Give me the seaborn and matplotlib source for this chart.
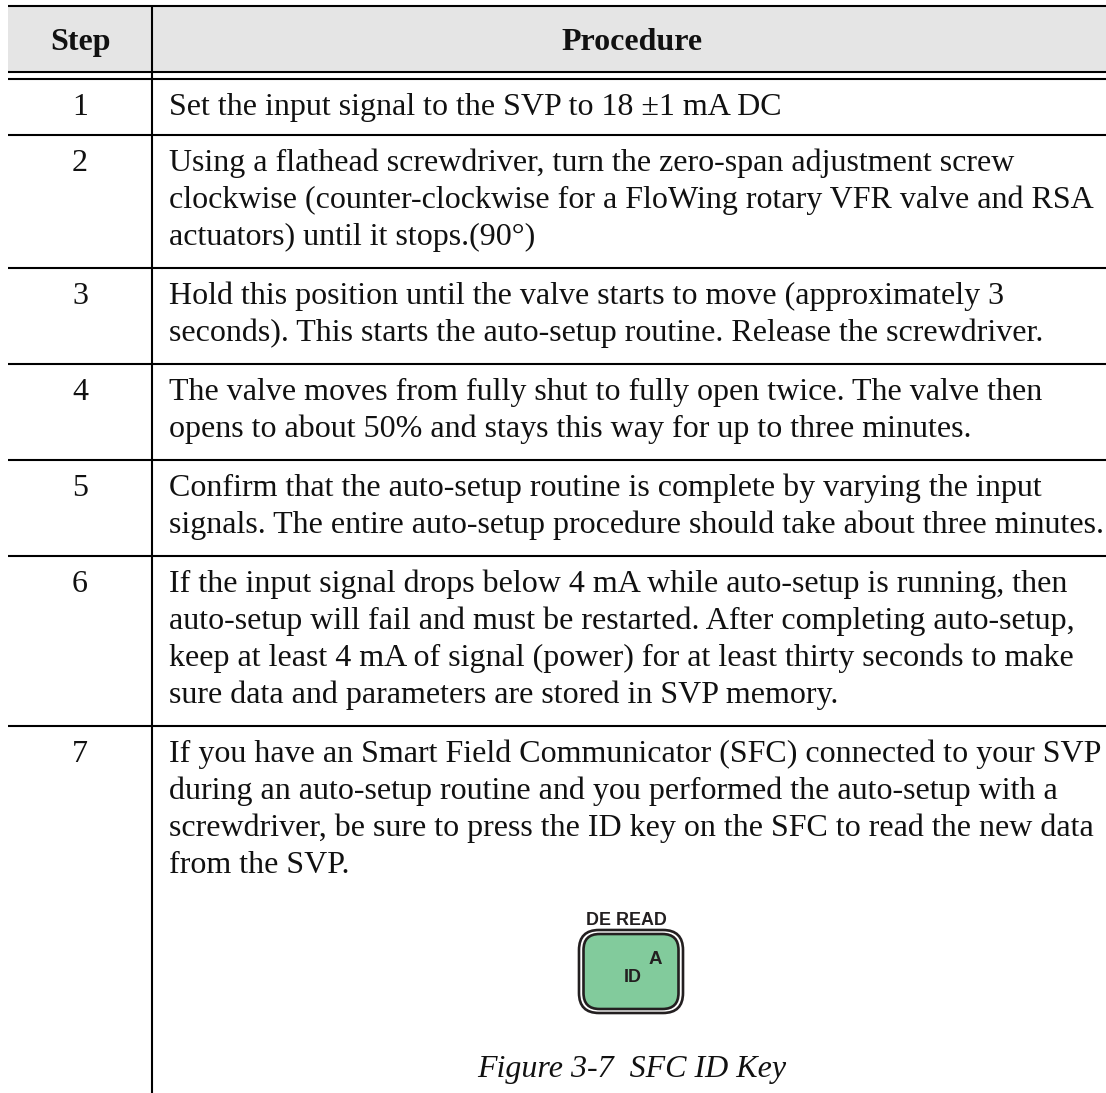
import matplotlib
matplotlib.use("Agg")
import matplotlib.pyplot as plt
from matplotlib.patches import FancyBboxPatch, Rectangle
import seaborn as sns

headers = ["Step", "Procedure"]
steps = ["1", "2", "3", "4", "5", "6", "7"]
procedure = [
    ["Set the input signal to the SVP to 18 ±1 mA DC"],
    ["Using a flathead screwdriver, turn the zero-span adjustment screw",
     "clockwise (counter-clockwise for a FloWing rotary VFR valve and RSA",
     "actuators) until it stops.(90°)"],
    ["Hold this position until the valve starts to move (approximately 3",
     "seconds). This starts the auto-setup routine. Release the screwdriver."],
    ["The valve moves from fully shut to fully open twice. The valve then",
     "opens to about 50% and stays this way for up to three minutes."],
    ["Confirm that the auto-setup routine is complete by varying the input",
     "signals. The entire auto-setup procedure should take about three minutes."],
    ["If the input signal drops below 4 mA while auto-setup is running, then",
     "auto-setup will fail and must be restarted. After completing auto-setup,",
     "keep at least 4 mA of signal (power) for at least thirty seconds to make",
     "sure data and parameters are stored in SVP memory."],
    ["If you have an Smart Field Communicator (SFC) connected to your SVP",
     "during an auto-setup routine and you performed the auto-setup with a",
     "screwdriver, be sure to press the ID key on the SFC to read the new data",
     "from the SVP."],
]
key_top_label = "DE READ"
key_labels = ["ID", "A"]
caption = "Figure 3-7  SFC ID Key"

sns.set_theme(style="white")
plt.rcParams["font.family"] = ["Liberation Serif", "DejaVu Serif"]

W, H = 1106, 1093
LINE = 37
PAD = 22
FONT = 23
INK = "#111111"
RULE = 1.5

fig = plt.figure(figsize=(W / 100, H / 100), dpi=100)
ax = fig.add_axes([0, 0, 1, 1])
ax.set_xlim(0, W)
ax.set_ylim(H, 0)
ax.axis("off")
sns.despine(ax=ax, left=True, bottom=True)

left, col, step_x, text_x, proc_x = 8, 152, 80, 169, 632

# header band and double rule
ax.add_patch(Rectangle((left, 6), W - left, 66, color="#e5e5e5", lw=0))
ax.hlines([6, 72, 79], left, W, color="black", lw=RULE)
ax.vlines(col, 6, H, color="black", lw=RULE)
ax.text(step_x, 50, headers[0], ha="center", va="baseline", fontsize=FONT, weight="bold", color=INK)
ax.text(proc_x, 50, headers[1], ha="center", va="baseline", fontsize=FONT, weight="bold", color=INK)

# rows: height follows from the number of text lines
y = 79
for i, (step, lines) in enumerate(zip(steps, procedure)):
    ax.text(step_x, y + 36, step, ha="center", va="baseline", fontsize=FONT, color=INK)
    for k, line in enumerate(lines):
        ax.text(text_x, y + 36 + k * LINE, line, ha="left", va="baseline", fontsize=FONT, color=INK)
    y += len(lines) * LINE + (19 if i == 0 else PAD)
    if i < len(steps) - 1:
        ax.hlines(y, left, W, color="black", lw=RULE)

# key icon
ax.add_patch(FancyBboxPatch((579, 930), 104, 83, boxstyle="round,pad=0,rounding_size=20",
                            fc="white", ec="#231f20", lw=1.9))
ax.add_patch(FancyBboxPatch((583.5, 934), 95, 75, boxstyle="round,pad=0,rounding_size=16",
                            fc="#82cb9c", ec="#231f20", lw=1.9))
ax.text(626, 925, key_top_label, ha="center", va="baseline", fontsize=12.9, weight="bold",
        family="Liberation Sans", color="#231f20")
ax.text(633, 982, key_labels[0], ha="center", va="baseline", fontsize=12.9, weight="bold",
        family="Liberation Sans", color="#231f20")
ax.text(655, 964, key_labels[1], ha="center", va="baseline", fontsize=13.5, weight="bold",
        family="Liberation Sans", color="#231f20")
ax.text(proc_x, 1077, caption, ha="center", va="baseline", fontsize=FONT, style="italic", color=INK)

fig.savefig("out.png", dpi=100)
